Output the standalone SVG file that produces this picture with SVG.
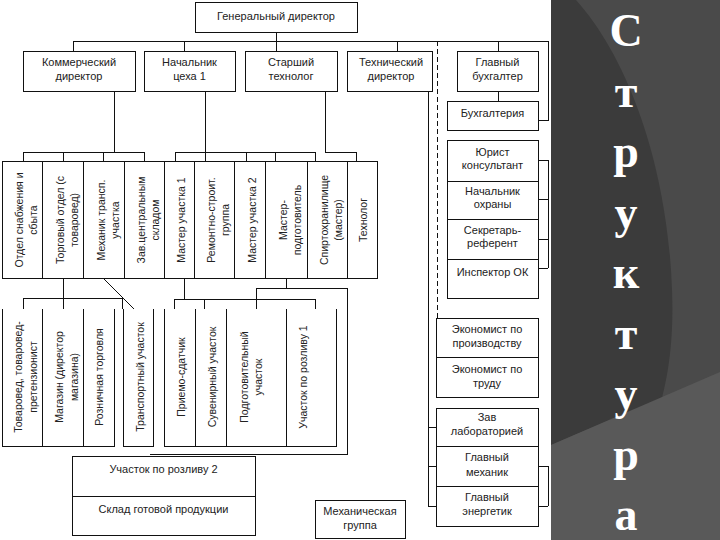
<svg xmlns="http://www.w3.org/2000/svg" width="720" height="540" viewBox="0 0 720 540">
<style>
.b{fill:#fff;stroke:#111;stroke-width:1;shape-rendering:crispEdges}
.o{fill:none;stroke:#111;stroke-width:1;shape-rendering:crispEdges}
.c path{fill:none;stroke:#111;stroke-width:1;shape-rendering:crispEdges}
.c path.d{stroke-dasharray:5 3}
.c path.g{shape-rendering:auto}
text{font-family:"Liberation Sans",Arial,sans-serif;font-size:11px;fill:#222;text-anchor:middle}
text.v{font-size:10.5px}
.L{font-family:"Liberation Serif","Times New Roman",serif;font-size:46px;font-weight:bold;fill:#fff}
</style>
<rect x="0" y="0" width="720" height="540" fill="#fff"/>
<g id="panel">
<rect x="551" y="0" width="169" height="540" fill="#4a4a4a"/>
<path d="M551,0 L576,0 C630,60 668,170 672,290 C674,340 668,375 662,398 L551,445 Z" fill="#3b3b3b"/>
<path d="M551,445 L720,372 L720,540 L551,540 Z" fill="#595959"/>
<text class="L" x="626"><tspan x="626" y="46">С</tspan><tspan x="626" y="106.5">т</tspan><tspan x="626" y="167">р</tspan><tspan x="626" y="227.5">у</tspan><tspan x="626" y="288">к</tspan><tspan x="626" y="348.5">т</tspan><tspan x="626" y="409">у</tspan><tspan x="626" y="469.5">р</tspan><tspan x="626" y="530">а</tspan></text>
</g>
<g class="c" id="connectors">
<path d="M276,32 V51"/>
<path d="M73,41 H548"/>
<path d="M73,41 V51 M184,41 V51 M397,41 V51 M498,41 V51"/>
<path d="M548,41 V120 H538"/>
<path d="M498,91 V101"/>
<path class="d" d="M437,41 V318"/>
<path d="M428,91 V507 M428,427 H436 M428,466 H436 M428,506 H436"/>
<path d="M548,160 V268 M538,160 H548 M538,199 H548 M538,239 H548 M538,268 H548"/>
<path d="M548,466 V506 M538,466 H548 M538,506 H548"/>
<path d="M114,91 V152 M23,152 H144 M23,152 V161 M63,152 V161 M103,152 V161 M144,152 V161"/>
<path d="M205,91 V161 M175,152 H315 M175,152 V161 M246,152 V161 M275,152 V161 M315,152 V161"/>
<path d="M325,91 V152 H356 V161"/>
<path d="M63,278 V309 M23,298 H122 M23,298 V309 M122,298 V309"/>
<path class="g" d="M103,278 L134,309"/>
<path d="M184,278 V299 M174,299 H315 M174,299 V309 M204,299 V309 M256,299 V309 M315,299 V309"/>
<path d="M286,278 V288 M256,288 H347 M256,288 V299 M347,288 V454 H150"/>
</g>
<g id="gen"><rect class="b" x="195" y="2" width="162" height="30"/><text x="276" y="20">Генеральный директор</text></g>
<g id="kom"><rect class="b" x="23" y="51" width="112" height="40"/><text x="79"><tspan x="79" y="66">Коммерческий</tspan><tspan x="79" y="80">директор</tspan></text></g>
<g id="nach1"><rect class="b" x="144" y="51" width="91" height="40"/><text x="189.5"><tspan x="189.5" y="66">Начальник</tspan><tspan x="189.5" y="80">цеха 1</tspan></text></g>
<g id="sttech"><rect class="b" x="245" y="51" width="92" height="40"/><text x="291"><tspan x="291" y="66">Старший</tspan><tspan x="291" y="80">технолог</tspan></text></g>
<g id="techdir"><rect class="b" x="347" y="51" width="85" height="40"/><text x="391"><tspan x="391" y="66">Технический</tspan><tspan x="391" y="80">директор</tspan></text></g>
<g id="glbuh"><rect class="b" x="457" y="51" width="81" height="40"/><text x="497.5"><tspan x="497.5" y="66">Главный</tspan><tspan x="497.5" y="80">бухгалтер</tspan></text></g>
<g id="buh"><rect class="b" x="447" y="101" width="91" height="29"/><text x="492.5" y="117">Бухгалтерия</text></g>
<g id="yur"><rect class="b" x="447" y="140" width="91" height="41"/><text x="492.5"><tspan x="492.5" y="156">Юрист</tspan><tspan x="492.5" y="169">консультант</tspan></text></g>
<g id="ohr"><rect class="b" x="447" y="181" width="91" height="38"/><text x="492.5"><tspan x="492.5" y="195">Начальник</tspan><tspan x="492.5" y="208">охраны</tspan></text></g>
<g id="sekr"><rect class="b" x="447" y="219" width="91" height="40"/><text x="492.5"><tspan x="492.5" y="234">Секретарь-</tspan><tspan x="492.5" y="247">референт</tspan></text></g>
<g id="insp"><rect class="b" x="447" y="259" width="91" height="39"/><text x="492.5" y="276">Инспектор ОК</text></g>
<g id="ekpr"><rect class="b" x="436" y="318" width="102" height="39"/><text x="487"><tspan x="487" y="333">Экономист по</tspan><tspan x="487" y="347">производству</tspan></text></g>
<g id="ektr"><rect class="b" x="436" y="357" width="102" height="40"/><text x="487"><tspan x="487" y="373">Экономист по</tspan><tspan x="487" y="387">труду</tspan></text></g>
<g id="lab"><rect class="b" x="436" y="408" width="102" height="38"/><text x="487"><tspan x="487" y="421">Зав</tspan><tspan x="487" y="435">лабораторией</tspan></text></g>
<g id="mech"><rect class="b" x="436" y="446" width="102" height="40"/><text x="487"><tspan x="487" y="461">Главный</tspan><tspan x="487" y="476">механик</tspan></text></g>
<g id="energ"><rect class="b" x="436" y="486" width="102" height="40"/><text x="487"><tspan x="487" y="501">Главный</tspan><tspan x="487" y="515">энергетик</tspan></text></g>
<g id="r3-1"><rect class="b" x="2" y="161" width="40" height="117"/><text class="v" transform="translate(22,220) rotate(-90)"><tspan x="0" y="1">Отдел снабжения и</tspan><tspan x="0" y="15">сбыта</tspan></text></g>
<g id="r3-2"><rect class="b" x="42" y="161" width="41" height="117"/><text class="v" transform="translate(62.5,220) rotate(-90)"><tspan x="0" y="1">Торговый отдел (с</tspan><tspan x="0" y="15">товаровед)</tspan></text></g>
<g id="r3-3"><rect class="b" x="83" y="161" width="41" height="117"/><text class="v" transform="translate(103.5,220) rotate(-90)"><tspan x="0" y="1">Механик трансп.</tspan><tspan x="0" y="15">участка</tspan></text></g>
<g id="r3-4"><rect class="b" x="124" y="161" width="40" height="117"/><text class="v" transform="translate(144,220) rotate(-90)"><tspan x="0" y="1">Зав.центральным</tspan><tspan x="0" y="15">складом</tspan></text></g>
<g id="r3-5"><rect class="b" x="164" y="161" width="30" height="117"/><text class="v" transform="translate(179,220) rotate(-90)" y="6">Мастер участка 1</text></g>
<g id="r3-6"><rect class="b" x="194" y="161" width="40" height="117"/><text class="v" transform="translate(214,220) rotate(-90)"><tspan x="0" y="1">Ремонтно-строит.</tspan><tspan x="0" y="15">группа</tspan></text></g>
<g id="r3-7"><rect class="b" x="234" y="161" width="31" height="117"/><text class="v" transform="translate(249.5,220) rotate(-90)" y="6">Мастер участка 2</text></g>
<g id="r3-8"><rect class="b" x="265" y="161" width="42" height="117"/><text class="v" transform="translate(286,220) rotate(-90)"><tspan x="0" y="1">Мастер-</tspan><tspan x="0" y="15">подготовитель</tspan></text></g>
<g id="r3-9"><rect class="b" x="307" y="161" width="40" height="117"/><text class="v" transform="translate(327,220) rotate(-90)"><tspan x="0" y="1">Спиртохранилище</tspan><tspan x="0" y="15">(мастер)</tspan></text></g>
<g id="r3-10"><rect class="b" x="347" y="161" width="30" height="117"/><text class="v" transform="translate(362,220) rotate(-90)" y="5">Технолог</text></g>
<g id="r4-1"><path class="o" d="M2,309 V446 H42 V309"/><text class="v" transform="translate(22,377) rotate(-90)"><tspan x="0" y="0">Товаровед, товаровед-</tspan><tspan x="0" y="15">претензионист</tspan></text></g>
<g id="r4-2"><path class="o" d="M42,309 V446 H83 V309"/><text class="v" transform="translate(62.5,377) rotate(-90)"><tspan x="0" y="0">Магазин (директор</tspan><tspan x="0" y="15">магазина)</tspan></text></g>
<g id="r4-3"><path class="o" d="M83,309 V446 H114 V309"/><text class="v" transform="translate(98.5,377) rotate(-90)" y="4">Розничная торговля</text></g>
<g id="r4-4"><path class="o" d="M123,309 V446 H153 V309"/><text class="v" transform="translate(138,377) rotate(-90)" y="6">Транспортный участок</text></g>
<g id="r4-5"><path class="o" d="M164,309 V446 H195 V309"/><text class="v" transform="translate(179.5,377) rotate(-90)" y="5">Приемо-сдатчик</text></g>
<g id="r4-6"><path class="o" d="M195,309 V446 H226 V309"/><text class="v" transform="translate(210.5,377) rotate(-90)" y="5">Сувенирный участок</text></g>
<g id="r4-7"><path class="o" d="M226,309 V446 H286 V309"/><text class="v" transform="translate(256,377) rotate(-90)"><tspan x="0" y="-8">Подготовительный</tspan><tspan x="0" y="6">участок</tspan></text></g>
<g id="r4-8"><path class="o" d="M286,309 V446 H336 V309"/><text class="v" transform="translate(311,377) rotate(-90)" y="-4">Участок по розливу 1</text></g>
<g id="roz2"><rect class="b" x="72" y="456" width="183" height="40"/><text x="163.5" y="473">Участок по розливу 2</text></g>
<g id="sklad"><rect class="b" x="72" y="496" width="183" height="39"/><text x="163.5" y="513">Склад готовой продукции</text></g>
<g id="mehgr"><rect class="b" x="315" y="500" width="90" height="38"/><text x="360"><tspan x="360" y="515">Механическая</tspan><tspan x="360" y="529">группа</tspan></text></g>
</svg>
